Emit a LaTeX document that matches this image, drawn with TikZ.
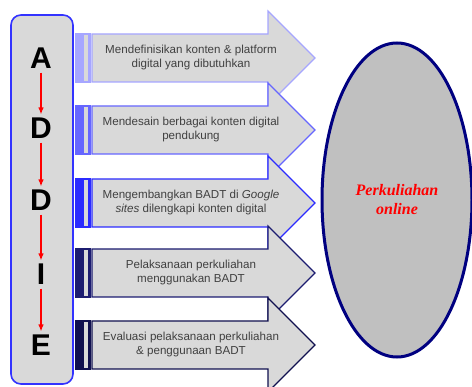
\documentclass[tikz,border=0pt]{standalone}
\usepackage{fontspec}
\setmainfont{Liberation Sans}
\newfontfamily\goalfont{Liberation Serif}
\usetikzlibrary{shapes.geometric, arrows.meta}
\definecolor{boxgray}{HTML}{D9D9D9}
\definecolor{goalgray}{HTML}{C0C0C0}
\definecolor{textgray}{HTML}{404040}
\definecolor{frameblue}{HTML}{3333FF}
\definecolor{arrowA}{HTML}{A6A6FF}
\definecolor{arrowB}{HTML}{6666FF}
\definecolor{arrowC}{HTML}{2B2BFF}
\definecolor{arrowD}{HTML}{1C1C70}
\definecolor{arrowE}{HTML}{10104F}
\definecolor{goalnavy}{HTML}{000080}
\begin{document}
\begin{tikzpicture}[
    x=1pt, y=-1pt,
    letter/.style={font=\fontsize{30}{30}\selectfont\bfseries, inner sep=2pt},
    steptext/.style={font=\fontsize{11.6}{14}\selectfont, text=textgray, align=center},
    link/.style={draw=red, line width=1.2pt, -{Latex[length=7pt,width=5.5pt]}, shorten <=2pt, shorten >=1pt}
]
\useasboundingbox (0,0) rectangle (472,387);
% ADDIE column
\draw[frameblue, fill=boxgray, line width=1.6pt, rounded corners=10pt] (11,15) rectangle (73,384);
\node[letter] (lA) at (41,58) {A};
\node[letter] (lD1) at (41,128) {D};
\node[letter] (lD2) at (41,200) {D};
\node[letter] (lI) at (41,274) {I};
\node[letter] (lE) at (41,345) {E};
\draw[link] (lA) -- (lD1);
\draw[link] (lD1) -- (lD2);
\draw[link] (lD2) -- (lI);
\draw[link] (lI) -- (lE);
% striped arrows
\foreach \yc/\col in {58/arrowA, 130/arrowB, 203/arrowC, 273/arrowD, 345/arrowE}{
    \draw[\col, fill=boxgray, line width=1.2pt] (76,\yc-24) rectangle (90,\yc+24);
    \fill[\col] (76,\yc-24) rectangle (84,\yc+24);
    \fill[\col] (87.5,\yc-24) rectangle (90,\yc+24);
    \draw[\col, fill=boxgray, line width=1.2pt] (92,\yc-24) -- (268,\yc-24) -- (268,\yc-47)
        -- (315,\yc) -- (268,\yc+47) -- (268,\yc+24) -- (92,\yc+24) -- cycle;
}
\node[steptext] (s1) at (191,58) {Mendefinisikan konten \& platform\\digital yang dibutuhkan};
\node[steptext] (s2) at (191,130) {Mendesain berbagai konten digital\\pendukung};
\node[steptext] (s3) at (191,203) {Mengembangkan BADT di \textit{Google}\\\textit{sites} dilengkapi konten digital};
\node[steptext] (s4) at (191,273) {Pelaksanaan perkuliahan\\menggunakan BADT};
\node[steptext] (s5) at (191,345) {Evaluasi pelaksanaan perkuliahan\\\& penggunaan BADT};
% goal
\node[ellipse, draw=goalnavy, fill=goalgray, line width=3pt, minimum width=150pt,
    minimum height=314pt, align=center, text=red,
    font=\goalfont\fontsize{16}{19}\selectfont\bfseries\itshape] (goal) at (397,200)
    {Perkuliahan\\online};
\end{tikzpicture}
\end{document}
